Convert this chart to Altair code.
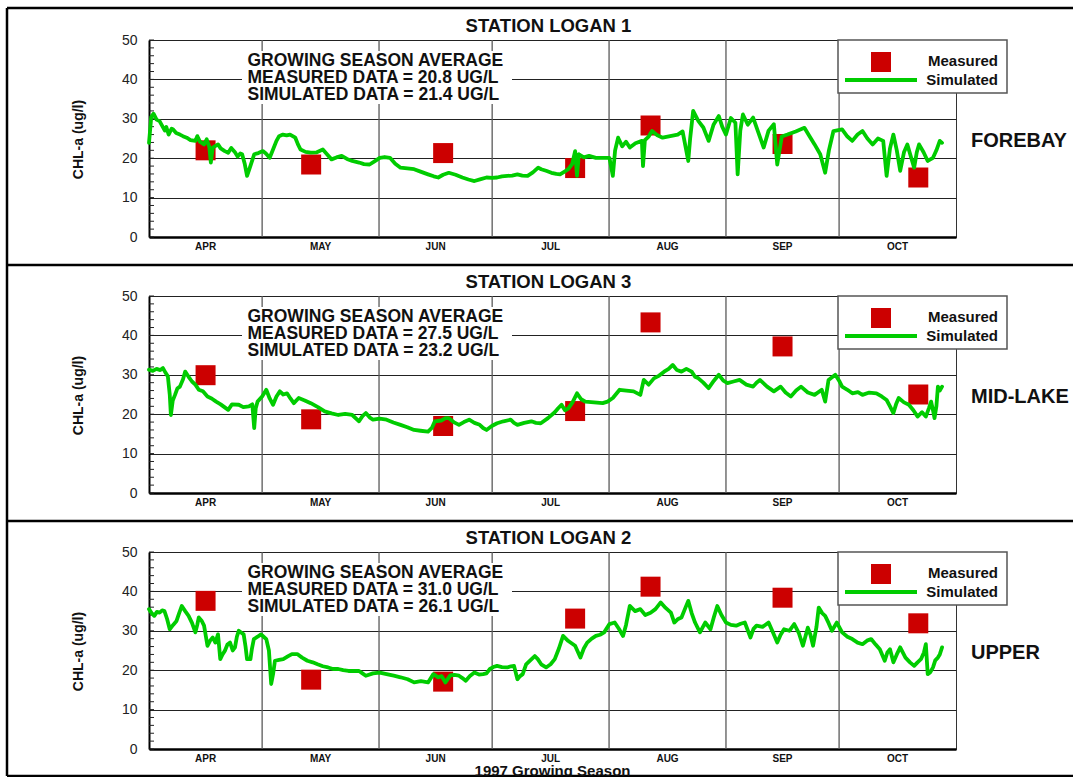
import altair as alt
import pandas as pd

FONT = "Liberation Sans"
W, H = 807, 197
SEASON_START = pd.Timestamp("1997-04-01")

GREEN = "#00cc00"
RED = "#cc0000"

month_names = ["APR", "MAY", "JUN", "JUL", "AUG", "SEP", "OCT"]
month_starts = ["1997-04-01", "1997-05-01", "1997-06-01", "1997-07-01",
                "1997-08-01", "1997-09-01", "1997-10-01", "1997-11-01"]
y_ticks = [0, 10, 20, 30, 40, 50]
y_minor = list(range(0, 51, 2))

# sampling dates of the grab samples
measured_dates = ["1997-04-16", "1997-05-14", "1997-06-18", "1997-07-23",
                  "1997-08-12", "1997-09-16", "1997-10-22"]

# ---- Station Logan 1 (forebay) ----
logan1_measured = [22.0, 18.4, 21.3, 17.5, 28.3, 23.6, 15.1]
logan1_days = [0, 0.6, 1.2, 2, 2.8, 3.5, 4.2, 4.6, 5.2, 6, 6.4, 7.2, 8.2, 9, 10, 11, 12.3, 12.8, 13.5, 14.6,
               15.3, 16, 16.4, 16.9, 18.3, 19, 20.1, 21, 21.8, 22.8, 23.5, 24.2, 24.7, 25.4, 26, 26.7, 27.9,
               29, 30.2, 31, 32, 32.6, 33.8, 34.5, 35.5, 36.5, 37.4, 38.8, 39.5, 40.2, 41.5, 42.9, 44.5,
               46.1, 47.2, 48.4, 49.7, 51.1, 52.5, 53.9, 55.7, 57, 58.5, 59.8, 61.2, 62.5, 63.9, 65.3, 66.7,
               68.5, 70.3, 72, 74, 75.5, 76.7, 78, 79.5, 81.3, 83.1, 84.7, 86.3, 88, 89.5, 91, 92.3, 93.6,
               95, 96.3, 97.7, 99, 100.4, 101.8, 103.2, 104, 105.3, 106.7, 108, 109, 110.2, 111.2, 112.2,
               113, 113.5, 114, 115.3, 116.7, 118.5, 120.3, 122.1, 123, 123.6, 124.4, 125.5, 126.5, 127.5,
               129, 130.7, 131, 131.5, 132.5, 133.4, 134.8, 136.2, 138.2, 140.2, 141.5, 143, 143.5, 144.3,
               145.7, 147, 148.4, 149.7, 151.1, 152, 153, 154.3, 155.5, 156.1, 156.8, 157.5, 158.8, 160.2,
               161.6, 163, 164.3, 165.7, 166.6, 167.8, 169.3, 171.5, 173.8, 175.2, 176.5, 178, 179.3,
               180.3, 181.5, 183.8, 185.2, 186.5, 187.9, 189.2, 190.5, 191.9, 193.3, 194.7, 195.6, 196.5,
               197.4, 198.3, 199.2, 200.2, 201.1, 202, 202.9, 203.6, 204.2, 205.4, 206.5, 207.9, 208.8,
               209.7, 210.3]
logan1_sim = [23.9, 30.5, 31.3, 29.8, 29.4, 28.2, 27.0, 27.9, 26.0, 27.5, 27.3, 26.4, 26.0, 25.6, 25.2, 24.6,
              24.4, 25.6, 24.2, 23.5, 24.8, 22.8, 18.9, 22.7, 23.5, 22.5, 21.8, 21.4, 22.6, 21.5, 20.4, 21.2,
              21.0, 18.5, 15.5, 17.5, 21.0, 21.3, 21.8, 21.2, 20.1, 21.5, 24.4, 25.6, 26.0, 25.8, 26.0, 25.2,
              23.5, 22.2, 21.6, 21.4, 21.5, 22.2, 21.0, 19.7, 20.2, 20.6, 19.8, 19.3, 18.9, 18.5, 18.4, 19.2,
              20.1, 20.3, 20.1, 18.6, 17.6, 17.4, 17.2, 16.6, 15.9, 15.4, 15.1, 15.8, 16.3, 15.8, 15.1, 14.6,
              14.2, 14.7, 15.1, 15.0, 15.1, 15.4, 15.5, 15.6, 15.9, 15.6, 15.5, 16.4, 17.6, 17.2, 16.8, 16.3,
              16.0, 15.9, 16.6, 17.2, 18.5, 21.8, 15.5, 21.0, 20.2, 20.6, 20.1, 20.1, 20.1, 15.5, 22.0, 25.2,
              23.0, 24.2, 22.7, 23.8, 24.4, 18.0, 24.6, 25.5, 26.9, 25.8, 25.2, 25.6, 26.0, 26.8, 19.3, 25.0,
              32.0, 29.4, 27.8, 24.4, 28.5, 30.7, 28.0, 26.0, 30.2, 29.0, 15.9, 27.0, 31.1, 28.5, 30.3, 26.5,
              22.7, 27.0, 28.6, 18.4, 25.5, 26.0, 26.8, 27.7, 25.5, 23.5, 21.0, 16.3, 22.0, 26.9, 27.3, 25.5,
              24.4, 26.0, 26.9, 25.0, 23.5, 25.0, 24.4, 15.5, 22.5, 26.0, 22.0, 16.8, 21.5, 23.5, 20.5, 17.6,
              21.5, 23.5, 21.5, 19.3, 20.1, 22.0, 24.4, 23.9]

# ---- Station Logan 3 (mid-lake) ----
logan3_measured = [29.9, 18.7, 17.0, 20.8, 43.3, 37.2, 25.0]
logan3_days = [0, 1, 2, 3, 3.7, 4.4, 5, 5.5, 5.8, 6.3, 6.9, 7.5, 8.2, 9, 9.6, 10.5, 11.4, 12.3, 13.2, 14.3,
               15.5, 16.6, 17.8, 19, 20, 21, 22, 23.8, 25, 26.5, 27.4, 27.9, 28.3, 28.8, 30, 31.1, 32, 32.9,
               33.8, 34.7, 35.6, 36.6, 37.5, 38.4, 39.7, 41.3, 42.9, 44.8, 46.6, 48.4, 50.2, 52, 53.9, 55.7,
               56.6, 57.5, 58.5, 59.4, 61.2, 63, 64.8, 66.7, 68.5, 70.3, 72, 74, 75, 75.8, 77.5, 78.6, 79.5,
               80.8, 82.2, 83.5, 84.9, 86.3, 87.7, 88.6, 89.5, 90.9, 92.3, 94, 95.9, 96.8, 97.7, 99.5, 101.4,
               102.6, 103.9, 105.8, 107.6, 108.5, 109.4, 110.3, 111.2, 112.3, 113.5, 114.6, 115.7, 118,
               120.3, 121.6, 123, 124.8, 126.6, 128.5, 130.3, 131.2, 132.5, 133.9, 135.3, 136.6, 137.8,
               138.9, 140, 141.2, 142.5, 143.9, 144.8, 145.7, 147, 148.4, 149.8, 151.1, 152.3, 153.4, 155,
               156.6, 158.4, 160.2, 161.1, 162, 163.9, 165.7, 167.5, 168.8, 170.2, 171.6, 172.9, 174.7,
               176.5, 178.4, 179.3, 180.2, 182, 183, 183.8, 185.2, 186.5, 188, 189.2, 191, 192.9, 194.3,
               195.6, 196.5, 197.4, 198.1, 198.8, 200.2, 201.5, 202.7, 203.8, 205, 206, 206.8, 207.4,
               207.9, 208.3, 208.8, 209.2, 209.7, 210.3]
logan3_sim = [31.3, 31.0, 31.5, 31.2, 31.7, 30.5, 29.6, 25.0, 19.8, 23.5, 24.9, 26.5, 27.0, 28.8, 30.8, 29.5,
              28.3, 27.5, 26.2, 25.8, 24.5, 24.0, 23.2, 22.5, 21.8, 21.1, 22.5, 22.4, 21.8, 22.0, 22.5, 16.5,
              21.5, 23.2, 24.5, 26.2, 24.0, 22.4, 24.5, 25.8, 25.0, 25.3, 24.0, 22.8, 24.1, 23.5, 22.8, 21.8,
              20.7, 20.2, 19.8, 20.1, 19.8, 18.2, 19.5, 20.3, 19.2, 18.6, 18.9, 18.6, 17.9, 17.3, 16.7, 16.0,
              15.8, 15.6, 16.5, 18.2, 18.4, 19.0, 19.0, 18.0, 17.3, 18.0, 18.6, 17.8, 17.3, 16.5, 16.0, 17.0,
              17.7, 18.2, 18.6, 17.8, 17.3, 17.8, 18.2, 17.8, 17.7, 19.0, 20.5, 21.5, 22.4, 21.0, 21.5, 23.0,
              25.3, 23.8, 23.2, 23.0, 22.8, 23.2, 24.1, 26.2, 26.0, 25.8, 24.9, 28.7, 27.5, 29.1, 29.8, 30.8,
              31.5, 32.5, 31.2, 30.8, 31.5, 30.8, 29.5, 29.1, 28.0, 26.6, 28.5, 30.0, 28.5, 27.9, 28.3, 28.7,
              27.5, 27.0, 28.0, 28.7, 27.0, 25.8, 27.0, 25.5, 24.5, 26.0, 27.0, 25.5, 24.9, 26.2, 23.2, 28.7,
              30.0, 28.5, 27.0, 26.2, 25.3, 25.6, 24.9, 25.5, 25.3, 24.5, 23.6, 22.0, 20.3, 22.5, 24.1, 23.0,
              22.4, 21.0, 19.4, 20.5, 19.4, 21.5, 23.2, 21.0, 19.0, 22.0, 27.0, 26.0, 27.0]

# ---- Station Logan 2 (upper) ----
logan2_measured = [37.6, 17.6, 17.1, 33.1, 41.2, 38.4, 31.9]
logan2_days = [0, 0.7, 1.4, 2.1, 2.8, 3.5, 4.1, 4.8, 5.5, 6.4, 7.3, 8, 8.7, 9.6, 10.5, 11.4, 12.3, 12.8, 13.2,
               14, 14.6, 15.1, 15.5, 16.2, 16.9, 17.6, 18.3, 18.9, 19.5, 20.1, 20.8, 21.5, 22.2, 22.8, 23.3,
               23.8, 24.5, 25.1, 25.6, 26, 26.9, 27.3, 27.8, 28.8, 29.7, 30.4, 31.1, 31.8, 32.4, 32.9, 33.4,
               34.5, 35.6, 36.8, 37.9, 39.3, 40.6, 42, 43.4, 44.7, 46.1, 47.5, 48.8, 50.2, 51.5, 52.9, 54.3,
               55.7, 56.6, 57.5, 59.4, 61.2, 63, 64.9, 66.7, 68.6, 70.3, 72.1, 74, 75.4, 76.7, 77.6, 78.6,
               79.9, 81, 82.2, 83.1, 84, 85.1, 86.3, 87.5, 88.6, 89.5, 90.4, 91.3, 92.3, 93.6, 95, 96, 96.8,
               97.7, 98.4, 99.1, 100, 101.1, 102.3, 103.1, 104, 105.3, 106.5, 107.6, 108.7, 109.8, 111.2,
               113, 114.4, 115.3, 116.2, 117.4, 118.5, 119.6, 120.7, 122.1, 123.5, 124.6, 125.7, 126.5,
               127.5, 128.9, 130.3, 131.6, 133, 134.3, 135.7, 137, 138.4, 139.3, 140.3, 141.2, 142.1, 143,
               143.9, 144.8, 146.1, 147.5, 148.9, 149.8, 150.7, 151.8, 153, 154.3, 155.7, 156.9, 158,
               159.5, 160.3, 161.1, 162.7, 164.3, 165.5, 166.6, 167.5, 168.4, 169.8, 171.1, 172.3, 173.4,
               174.7, 175.4, 176.1, 177, 177.6, 178.5, 179.3, 180.2, 181.1, 182.4, 183.8, 185.2, 186.5,
               187.9, 189.2, 190.4, 191.5, 192.7, 193.8, 195.1, 195.8, 196.5, 197.4, 198.3, 199.2, 200.6,
               201.8, 202.9, 203.8, 204.7, 205.5, 206, 206.5, 207.2, 207.9, 208.5, 209.2, 209.7, 210.3]
logan2_sim = [35.5, 34.5, 33.8, 34.8, 34.6, 35.2, 35.0, 33.0, 30.4, 31.5, 32.5, 34.5, 36.3, 35.0, 33.8, 32.0,
              29.6, 31.5, 33.4, 32.5, 31.3, 28.5, 26.2, 27.5, 28.3, 27.0, 29.1, 22.8, 24.0, 24.9, 26.5, 27.0,
              25.0, 25.8, 28.5, 30.0, 29.5, 29.1, 26.0, 22.8, 22.8, 25.5, 27.9, 28.5, 29.1, 28.5, 27.9, 25.0,
              16.5, 19.0, 22.4, 22.6, 22.8, 23.5, 24.1, 24.1, 23.2, 22.4, 22.0, 21.5, 21.0, 20.7, 20.3, 20.3,
              20.0, 19.8, 19.8, 19.8, 19.2, 18.6, 19.2, 19.4, 19.0, 18.6, 18.2, 17.7, 16.9, 17.2, 16.9, 19.0,
              18.2, 18.5, 16.9, 18.7, 18.8, 18.6, 18.0, 17.3, 18.5, 19.4, 18.9, 19.0, 19.2, 20.3, 20.8, 21.1,
              20.8, 20.7, 21.0, 21.1, 17.7, 18.5, 19.0, 21.5, 22.5, 23.6, 22.8, 21.5, 20.7, 21.5, 22.8, 25.5,
              28.7, 27.4, 26.2, 23.2, 25.5, 27.0, 28.0, 28.7, 29.0, 29.6, 31.7, 32.1, 30.5, 28.7, 31.5, 36.3,
              35.0, 35.5, 34.0, 34.6, 35.5, 37.2, 35.8, 34.6, 32.1, 33.0, 33.4, 35.5, 37.6, 34.5, 32.1, 29.6,
              32.1, 30.4, 33.5, 36.3, 34.0, 32.1, 31.5, 31.3, 31.8, 32.1, 28.3, 30.5, 31.3, 31.0, 32.1, 29.5,
              27.0, 29.0, 30.4, 30.0, 31.7, 29.5, 26.2, 30.8, 29.0, 26.2, 31.0, 35.9, 34.5, 33.8, 32.0, 30.0,
              32.1, 29.6, 28.5, 27.9, 27.0, 26.6, 27.5, 27.9, 26.5, 25.3, 22.4, 24.5, 25.3, 22.0, 24.0, 25.8,
              23.2, 22.0, 21.1, 22.0, 22.8, 24.5, 26.6, 19.0, 19.5, 20.7, 22.5, 23.2, 24.0, 25.8]

panels = [
    {"title": "STATION LOGAN 1", "site": "FOREBAY", "measured_avg": "20.8", "simulated_avg": "21.4",
     "days": logan1_days, "sim": logan1_sim, "measured": logan1_measured, "sep": -32},
    {"title": "STATION LOGAN 3", "site": "MID-LAKE", "measured_avg": "27.5", "simulated_avg": "23.2",
     "days": logan3_days, "sim": logan3_sim, "measured": logan3_measured, "sep": -31},
    {"title": "STATION LOGAN 2", "site": "UPPER", "measured_avg": "31.0", "simulated_avg": "26.1",
     "days": logan2_days, "sim": logan2_sim, "measured": logan2_measured, "sep": -31},
]

one_row = alt.InlineData(values=[{"k": 0}])

x_scale = alt.Scale(domain=[alt.DateTime(year=1997, month=4, date=1),
                            alt.DateTime(year=1997, month=11, date=1)], nice=False)
x_axis = alt.Axis(labels=False, ticks=False, grid=False, title=None,
                  domainColor="#000", domainWidth=2.5)
y_scale = alt.Scale(domain=[0, 50], nice=False)
y_axis = alt.Axis(values=y_ticks, grid=True, gridColor="#222", gridWidth=1,
                  ticks=False, tickSize=0, labelPadding=12, labelFont=FONT, labelFontSize=14,
                  labelColor="#222", domainColor="#000", domainWidth=2,
                  title="CHL-a (ug/l)", titleFont=FONT, titleFontSize=14, titleFontWeight="bold",
                  titleColor="#111", titleX=-71, titleY=99, titleAngle=270,
                  titleAlign="center", titleBaseline="middle")


def x_enc():
    return alt.X("date:T", scale=x_scale, axis=x_axis)


def y_enc():
    return alt.Y("chl:Q", scale=y_scale, axis=y_axis)


starts = pd.to_datetime(month_starts)
mids = [starts[i] + (starts[i + 1] - starts[i]) / 2 for i in range(len(month_names))]
month_label_df = pd.DataFrame({"date": mids, "label": month_names})
month_grid_df = pd.DataFrame({"date": starts[1:-1]})
minor_df = pd.DataFrame({"chl": y_minor})


def deco_rule(x1, x2, y1, y2, color="#000", width=2.5):
    return alt.Chart(one_row).mark_rule(color=color, strokeWidth=width).encode(
        x=alt.value(x1), x2=alt.value(x2), y=alt.value(y1), y2=alt.value(y2))


def deco_text(txt, x, y, size, align="left", weight="bold"):
    return alt.Chart(one_row).mark_text(
        text=txt, font=FONT, fontSize=size, fontWeight=weight, color="#111",
        align=align, baseline="middle").encode(x=alt.value(x), y=alt.value(y))


def build_panel(idx):
    p = panels[idx]
    last = idx == len(panels) - 1
    sim_df = pd.DataFrame({"date": SEASON_START + pd.to_timedelta(p["days"], unit="D"),
                           "chl": p["sim"]})
    meas_df = pd.DataFrame({"date": pd.to_datetime(measured_dates), "chl": p["measured"]})
    sep = p["sep"]

    layers = []
    # vertical month gridlines
    layers.append(alt.Chart(month_grid_df).mark_rule(color="#5a5a5a", strokeWidth=1.3).encode(
        x=x_enc()))
    # inward minor ticks on the value axis
    layers.append(alt.Chart(minor_df).mark_rule(color="#222", strokeWidth=1).encode(
        y=y_enc(), x=alt.value(0), x2=alt.value(5)))

    # outer frame pieces: separator / top border and the left border
    layers.append(deco_rule(-142, 924, sep, sep))
    bottom = 224 if last else H + 59 + panels[idx + 1]["sep"]
    layers.append(deco_rule(-142, -142, sep, bottom))
    if last:
        layers.append(deco_rule(-142, 924, 224, 224))

    # white box behind the season-average statement
    layers.append(alt.Chart(one_row).mark_rect(color="white").encode(
        x=alt.value(93), x2=alt.value(363), y=alt.value(11), y2=alt.value(64)))
    stats = ["GROWING SEASON AVERAGE",
             f"MEASURED DATA = {p['measured_avg']} UG/L",
             f"SIMULATED DATA = {p['simulated_avg']} UG/L"]
    for i, line in enumerate(stats):
        layers.append(deco_text(line, 98.5, 21 + 17.2 * i, 17.5))

    # measured samples, then the simulated series on top
    layers.append(alt.Chart(meas_df).mark_square(size=400, color=RED, opacity=1).encode(
        x=x_enc(), y=y_enc()))
    layers.append(alt.Chart(sim_df).mark_line(color=GREEN, strokeWidth=3.8,
                                              strokeJoin="round", strokeCap="round").encode(
        x=x_enc(), y=y_enc()))

    # legend box
    layers.append(alt.Chart(one_row).mark_rect(fill="white", stroke="#555", strokeWidth=1.5).encode(
        x=alt.value(689), x2=alt.value(858), y=alt.value(0), y2=alt.value(53)))
    layers.append(alt.Chart(one_row).mark_square(size=400, color=RED, opacity=1).encode(
        x=alt.value(732), y=alt.value(22)))
    layers.append(deco_rule(696, 768, 40, 40, color=GREEN, width=4))
    layers.append(deco_text("Measured", 849, 21, 15, align="right"))
    layers.append(deco_text("Simulated", 849, 40, 15, align="right"))

    # month labels, station title and site name
    layers.append(alt.Chart(month_label_df).mark_text(
        font=FONT, fontSize=10, fontWeight="bold", color="#111", baseline="middle").encode(
        x=x_enc(), y=alt.value(H + 10), text="label:N"))
    layers.append(deco_text(p["title"], W / 2 - 4, -14.5, 18.5, align="center"))
    layers.append(deco_text(p["site"], 822, 101, 20))
    if last:
        layers.append(deco_text("1997 Growing Season", W / 2, 218.5, 15, align="center"))

    return alt.layer(*layers).properties(width=W, height=H)


charts = [build_panel(i) for i in range(len(panels))]

chart = alt.vconcat(*charts, spacing=59, bounds="flush").properties(
    padding={"left": 5, "top": 6, "right": 0, "bottom": 0},
    background="white",
).configure_view(stroke="#333", strokeWidth=1)

chart.save("out.html", embed_options={"renderer": "svg", "actions": False})
